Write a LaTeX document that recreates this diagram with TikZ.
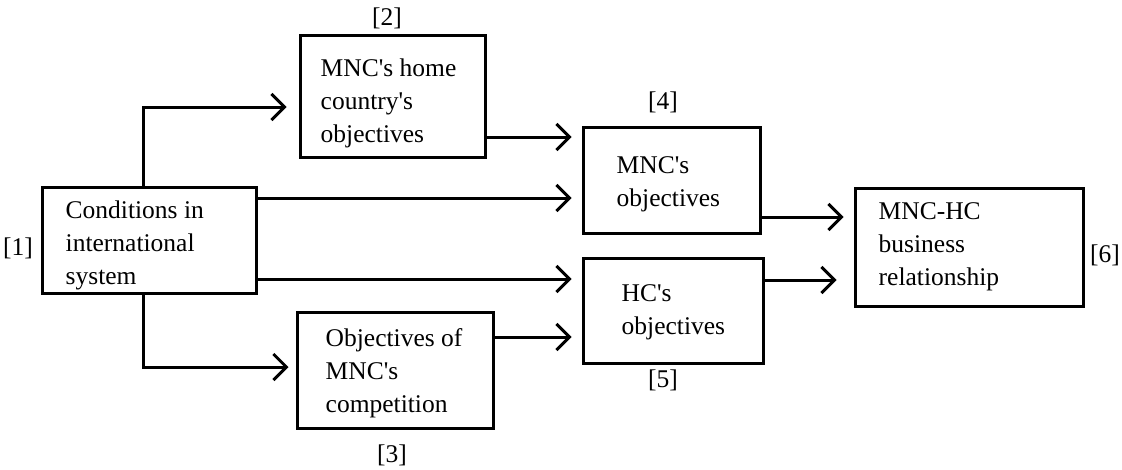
\documentclass[tikz,border=0pt]{standalone}
\usepackage{fontspec}
\setmainfont{Liberation Serif}[Ligatures=TeXOff]
\usetikzlibrary{arrows.meta}
\begin{document}
\begin{tikzpicture}[x=1pt,y=-1pt,
  every node/.style={font=\fontsize{25.5}{33}\selectfont},
  blk/.style={draw,line width=3pt,anchor=center,inner sep=0pt},
  txt/.style={align=left,anchor=west,inner sep=0pt},
  tag/.style={inner sep=0pt},
  arr/.style={line width=3pt,-{Straight Barb[length=13pt,width=26pt]},shorten >=10pt}]
\useasboundingbox (0,0) rectangle (1122,469);

% boxes
\node[blk,minimum width=214pt,minimum height=106pt] (b1) at (149,240) {};
\node[blk,minimum width=185pt,minimum height=122pt] (b2) at (392.5,96) {};
\node[blk,minimum width=196pt,minimum height=116pt] (b3) at (395,370) {};
\node[blk,minimum width=177pt,minimum height=106pt] (b4) at (671.5,180) {};
\node[blk,minimum width=180pt,minimum height=105pt] (b5) at (673,310.5) {};
\node[blk,minimum width=228pt,minimum height=118pt] (b6) at (969,247) {};

% box texts, left-aligned with an inset
\node[txt] (t1) at ([xshift=25pt,yshift=-5pt]b1.west) {Conditions in\\international\\system};
\node[txt] (t2) at ([xshift=22pt,yshift=-7pt]b2.west) {MNC's home\\country's\\objectives};
\node[txt] (t3) at ([xshift=30pt,yshift=-3pt]b3.west) {Objectives of\\MNC's\\competition};
\node[txt] (t4) at ([xshift=35pt,yshift=-4pt]b4.west) {MNC's\\objectives};
\node[txt] (t5) at ([xshift=40pt,yshift=-2pt]b5.west) {HC's\\objectives};
\node[txt] (t6) at ([xshift=25pt]b6.west) {MNC-HC\\business\\relationship};

% reference numbers
\node[tag] (n1) at (18,248) {[1]};
\node[tag] (n2) at (387,18) {[2]};
\node[tag] (n3) at (392,455) {[3]};
\node[tag] (n4) at (663,102) {[4]};
\node[tag] (n5) at (663,380) {[5]};
\node[tag] (n6) at (1105,255) {[6]};

% connectors
\draw[arr,shorten >=12pt] ([xshift=-6pt]b1.north) |- ([yshift=-11pt]b2.west);
\draw[arr,shorten >=7pt] ([xshift=-6pt]b1.south) |- ([yshift=3pt]b3.west);
\draw[arr] ([yshift=42pt]b1.east) -- ([yshift=42pt]b1.east -| b4.west);
\draw[arr] ([yshift=-39pt]b1.east) -- ([yshift=-39pt]b1.east -| b5.west);
\draw[arr] ([yshift=-41pt]b2.east) -- ([yshift=-41pt]b2.east -| b4.west);
\draw[arr] ([yshift=33pt]b3.east) -- ([yshift=33pt]b3.east -| b5.west);
\draw[arr] ([yshift=-37pt]b4.east) -- ([yshift=-37pt]b4.east -| b6.west);
\draw[arr,shorten >=17pt] ([yshift=30.5pt]b5.east) -- ([yshift=30.5pt]b5.east -| b6.west);
\end{tikzpicture}
\end{document}
